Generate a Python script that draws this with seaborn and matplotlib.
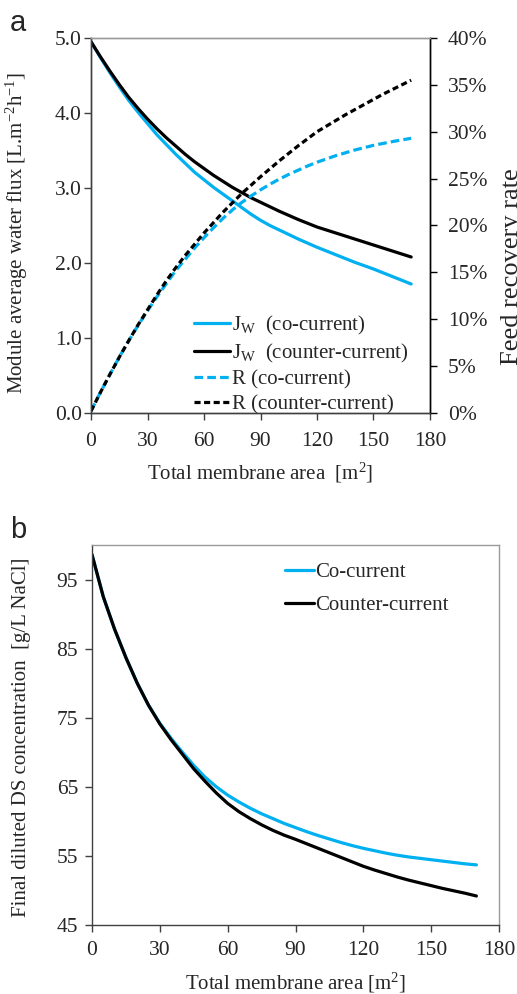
import matplotlib
matplotlib.use("Agg")
import matplotlib.pyplot as plt
import seaborn as sns
import numpy as np
import pandas as pd
from matplotlib.ticker import PercentFormatter, FormatStrFormatter, MultipleLocator

# ---------------- data ----------------
area = [0, 5, 10, 15, 20, 25, 30, 35, 40, 45, 50, 55, 60, 65, 70, 75, 80, 85,
        90, 95, 100, 105, 110, 115, 120, 125, 130, 135, 140, 145, 150, 155, 160, 165, 170]
jw_co = [4.95, 4.74, 4.54, 4.35, 4.17, 4.01, 3.86, 3.71, 3.58, 3.45, 3.33, 3.21, 3.11, 3.01,
         2.92, 2.83, 2.74, 2.65, 2.57, 2.50, 2.44, 2.38, 2.32, 2.265, 2.21, 2.16, 2.11, 2.06,
         2.01, 1.965, 1.92, 1.87, 1.82, 1.77, 1.72]
jw_counter = [4.95, 4.75, 4.56, 4.38, 4.21, 4.06, 3.92, 3.79, 3.67, 3.56, 3.45, 3.35, 3.26,
              3.17, 3.09, 3.01, 2.94, 2.87, 2.81, 2.75, 2.69, 2.635, 2.58, 2.53, 2.48, 2.44,
              2.40, 2.36, 2.32, 2.28, 2.24, 2.20, 2.16, 2.12, 2.08]
r_co = [0.002, 0.022, 0.041, 0.0595, 0.077, 0.0935, 0.109, 0.124, 0.138, 0.152, 0.164, 0.176,
        0.187, 0.1975, 0.2075, 0.2165, 0.2245, 0.2315, 0.238, 0.244, 0.2495, 0.2545, 0.259,
        0.2635, 0.2675, 0.271, 0.2745, 0.2775, 0.2805, 0.283, 0.2855, 0.2875, 0.2895, 0.2913, 0.293]
r_counter = [0.002, 0.022, 0.041, 0.0595, 0.077, 0.094, 0.110, 0.126, 0.141, 0.155, 0.168,
             0.180, 0.192, 0.203, 0.214, 0.224, 0.234, 0.243, 0.252, 0.2605, 0.269, 0.277,
             0.285, 0.2925, 0.300, 0.306, 0.312, 0.318, 0.3235, 0.329, 0.3345, 0.340, 0.345,
             0.350, 0.355]

area_b = [0, 5, 10, 15, 20, 25, 30, 35, 40, 45, 50, 55, 60, 65, 70, 75, 80, 85,
          90, 95, 100, 105, 110, 115, 120, 125, 130, 135, 140, 145, 150, 155, 160, 165, 170]
conc_co = [98.6, 92.5, 87.8, 83.7, 80.0, 76.8, 74.2, 72.0, 70.0, 68.1, 66.4, 65.0, 63.8, 62.8,
           61.9, 61.1, 60.4, 59.7, 59.1, 58.5, 57.95, 57.45, 56.95, 56.5, 56.1, 55.75, 55.4,
           55.1, 54.85, 54.65, 54.45, 54.25, 54.05, 53.85, 53.7]
conc_counter = [98.6, 92.5, 87.8, 83.7, 80.0, 76.8, 74.1, 71.8, 69.7, 67.6, 65.8, 64.1, 62.6,
                61.4, 60.4, 59.5, 58.7, 58.0, 57.4, 56.75, 56.1, 55.45, 54.8, 54.15, 53.5,
                52.95, 52.45, 51.95, 51.5, 51.1, 50.7, 50.3, 49.95, 49.6, 49.2]

xticks = [0, 30, 60, 90, 120, 150, 180]
labels_a = ["J$_\\mathrm{W}$  (co-current)", "J$_\\mathrm{W}$  (counter-current)",
            "R (co-current)", "R (counter-current)"]
labels_b = ["Co-current", "Counter-current"]

# ---------------- style ----------------
sns.set_style("ticks")
plt.rcParams["font.family"] = ["Liberation Serif", "DejaVu Serif"]
plt.rcParams["mathtext.fontset"] = "custom"
plt.rcParams["mathtext.rm"] = "Liberation Serif"
plt.rcParams["mathtext.it"] = "Liberation Serif:italic"

BLUE = "#00B0F0"
BLACK = "#000000"
FS = 15
TFS = 15.5
LW = 2.3

fig = plt.figure(figsize=(5.17, 9.94), dpi=100)
W, H = 517.0, 994.0

# ---------------- panel a ----------------
ax = fig.add_axes([91 / W, 1 - 413 / H, (430 - 91) / W, (413 - 38) / H])
ax2 = ax.twinx()

sns.lineplot(x=area, y=jw_co, ax=ax, color=BLUE, linewidth=LW, legend=False, errorbar=None)
sns.lineplot(x=area, y=jw_counter, ax=ax, color=BLACK, linewidth=LW, legend=False, errorbar=None)
sns.lineplot(x=area, y=r_co, ax=ax2, color=BLUE, linewidth=LW, legend=False, errorbar=None,
             linestyle=(0, (2.7, 1.3)))
sns.lineplot(x=area, y=r_counter, ax=ax2, color=BLACK, linewidth=LW, legend=False, errorbar=None,
             linestyle=(0, (1.9, 1.1)))

ax.set_xlim(0, 180)
ax.set_ylim(0, 5)
ax2.set_ylim(0, 0.40)
ax.set_xticks(xticks)
ax.yaxis.set_major_locator(MultipleLocator(1.0))
ax.yaxis.set_major_formatter(FormatStrFormatter("%.1f"))
ax2.yaxis.set_major_locator(MultipleLocator(0.05))
ax2.yaxis.set_major_formatter(PercentFormatter(xmax=1, decimals=0))

ax.tick_params(axis="x", direction="out", length=5, width=1, labelsize=TFS, pad=8.5, color="#404040")
ax.tick_params(axis="y", direction="out", length=5, width=1, labelsize=TFS, pad=1.5, color="#404040")
ax2.tick_params(axis="y", direction="out", length=5, width=1, labelsize=TFS, pad=8, color="#000000")

for a in (ax, ax2):
    a.spines["top"].set_color("#9a9a9a")
    a.spines["left"].set_color("#404040")
    a.spines["bottom"].set_color("#404040")
    a.spines["right"].set_color("#000000")
    for s in a.spines.values():
        s.set_linewidth(1.0)

ax.set_xlabel("Total membrane area  [m$^2$]", fontsize=FS, labelpad=7.5)
ax.set_ylabel("Module average water flux [L.m$^{-2}$h$^{-1}$]", fontsize=FS)
ax.yaxis.set_label_coords(-0.18, 0.48)
ax2.set_ylabel("Feed recovery rate", fontsize=19)
ax2.yaxis.set_label_coords((501 - 91) / 339, 0.39)

handles = ax.get_lines()[:2] + ax2.get_lines()[:2]
leg = ax2.legend(handles, labels_a, loc="upper left", bbox_to_anchor=(0.305, 0.264),
                 frameon=False, fontsize=FS, handlelength=1.7, handletextpad=0.1,
                 labelspacing=0.24, borderaxespad=0, borderpad=0)

fig.text(10 / W, 1 - 23 / H, "a", fontsize=21, family="Liberation Sans", va="center", ha="left")

# ---------------- panel b ----------------
bx = fig.add_axes([92 / W, 1 - 925 / H, (499 - 92) / W, (925 - 545) / H])
sns.lineplot(x=area_b, y=conc_co, ax=bx, color=BLUE, linewidth=LW, legend=False, errorbar=None,
             label=labels_b[0])
sns.lineplot(x=area_b, y=conc_counter, ax=bx, color=BLACK, linewidth=LW, legend=False, errorbar=None,
             label=labels_b[1])
bx.set_xlim(0, 180)
bx.set_ylim(45, 100)
bx.set_xticks(xticks)
bx.set_yticks([45, 55, 65, 75, 85, 95])
bx.tick_params(axis="both", direction="out", length=5, width=1, labelsize=TFS, color="#404040")
bx.tick_params(axis="y", pad=5)
bx.tick_params(axis="x", pad=6.5)
bx.spines["top"].set_color("#9a9a9a")
bx.spines["right"].set_color("#9a9a9a")
bx.spines["left"].set_color("#404040")
bx.spines["bottom"].set_color("#404040")
for s in bx.spines.values():
    s.set_linewidth(1.0)
bx.set_xlabel("Total membrane area [m$^2$]", fontsize=FS, labelpad=8)
bx.set_ylabel("Final diluted DS concentration  [g/L NaCl]", fontsize=FS)
bx.yaxis.set_label_coords(-0.150, 0.495)
bx.legend(bx.get_lines()[:2], labels_b, loc="upper left", bbox_to_anchor=(0.475, 0.953),
          frameon=False, fontsize=FS, handlelength=1.4, handletextpad=0.05,
          labelspacing=0.64, borderaxespad=0, borderpad=0)

fig.text(10 / W, 1 - 530 / H, "b", fontsize=21, family="Liberation Sans", va="center", ha="left")

fig.savefig("out.png", dpi=100)
